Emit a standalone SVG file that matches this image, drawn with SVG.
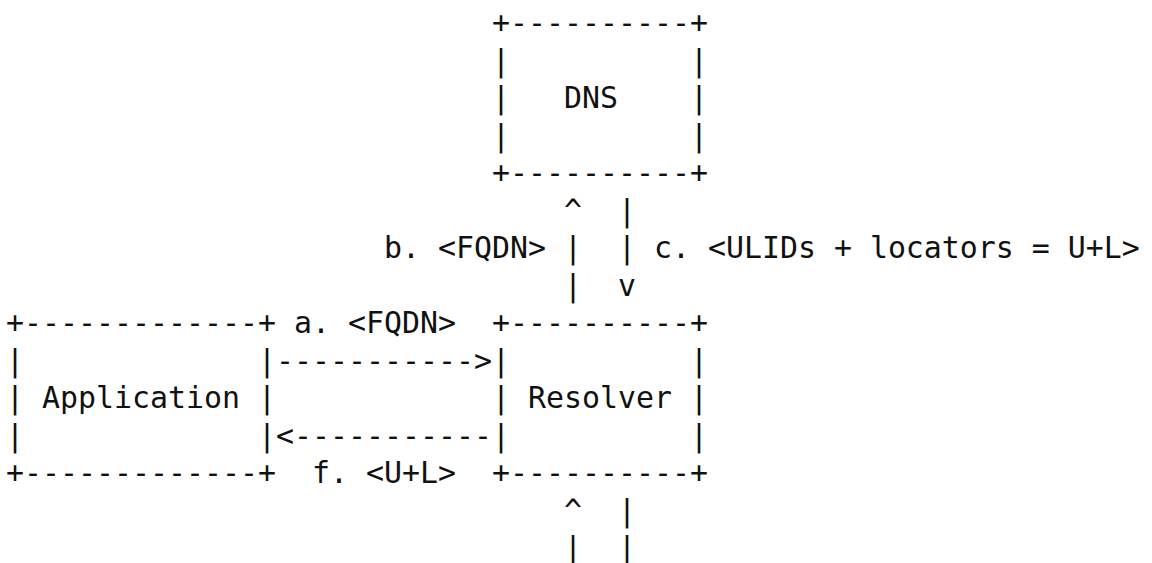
<svg xmlns="http://www.w3.org/2000/svg" width="1152" height="563" viewBox="0 0 1152 563">
<style>
text{font-family:"DejaVu Sans Mono","Liberation Mono",monospace;font-size:29.9px;fill:#111;white-space:pre}
</style>
<rect width="1152" height="563" fill="#fff"/>
<g id="dns">
<text x="492" y="33">+----------+</text>
<text x="492" y="70.5">|          |</text>
<text x="492" y="108">|   DNS    |</text>
<text x="492" y="145.5">|          |</text>
<text x="492" y="183">+----------+</text>
</g>
<g id="application">
<text x="6" y="333">+-------------+</text>
<text x="6" y="370.5">|             |</text>
<text x="6" y="408">| Application |</text>
<text x="6" y="445.5">|             |</text>
<text x="6" y="483">+-------------+</text>
</g>
<g id="resolver">
<text x="492" y="333">+----------+</text>
<text x="492" y="370.5">|          |</text>
<text x="492" y="408">| Resolver |</text>
<text x="492" y="445.5">|          |</text>
<text x="492" y="483">+----------+</text>
</g>
<g id="connectors">
<text x="564" y="220.5">^  |</text>
<text x="384" y="258">b. &lt;FQDN&gt; |  | c. &lt;ULIDs + locators = U+L&gt;</text>
<text x="564" y="295.5">|  v</text>
<text x="294" y="333">a. &lt;FQDN&gt;</text>
<text x="276" y="370.5">-----------&gt;</text>
<text x="276" y="445.5">&lt;-----------</text>
<text x="312" y="483">f. &lt;U+L&gt;</text>
<text x="564" y="520.5">^  |</text>
<text x="564" y="558">|  |</text>
</g>
</svg>
